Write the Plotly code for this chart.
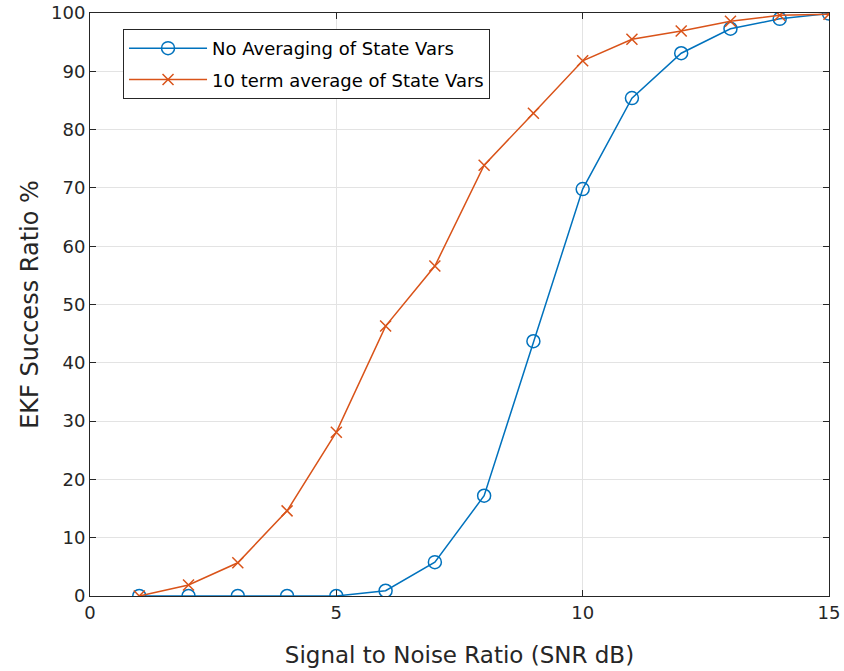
import plotly.graph_objects as go

snr_db = [1, 2, 3, 4, 5, 6, 7, 8, 9, 10, 11, 12, 13, 14, 15]
no_avg = [0, 0, 0, 0, 0, 0.9, 5.8, 17.2, 43.7, 69.8, 85.4, 93.1, 97.3, 99.0, 99.9]
avg10 = [0, 1.9, 5.7, 14.6, 28.1, 46.3, 56.6, 73.9, 82.8, 91.8, 95.5, 96.9, 98.6, 99.6, 99.8]

blue = "#0072BD"
orange = "#D95319"
font_family = "DejaVu Sans, Liberation Sans, Arial, sans-serif"
text_color = "#262626"

fig = go.Figure()
fig.add_trace(go.Scatter(
    x=snr_db, y=no_avg, mode="lines+markers", name="No Averaging of State Vars",
    legendgroup="a",
    line=dict(color=blue, width=1.5),
    marker=dict(symbol="circle-open", size=13, color=blue, line=dict(width=1.5)),
))
fig.add_trace(go.Scatter(
    x=snr_db, y=avg10, mode="lines+markers", name="10 term average of State Vars",
    legendgroup="b",
    line=dict(color=orange, width=1.5),
    marker=dict(symbol="x-thin-open", size=11, color=orange, line=dict(width=1.5, color=orange)),
))

axis_common = dict(
    showline=True, linecolor=text_color, linewidth=1, mirror="ticks",
    ticks="inside", ticklen=6, tickcolor=text_color,
    showgrid=True, gridcolor="#e3e3e3", gridwidth=1,
    zeroline=False, automargin=False,
    tickfont=dict(family=font_family, size=18, color=text_color),
)

fig.update_layout(
    width=844, height=671,
    margin=dict(l=90, r=15, t=13, b=75),
    paper_bgcolor="white", plot_bgcolor="white",
    font=dict(family=font_family, color=text_color),
    xaxis=dict(range=[0, 15], tickvals=[0, 5, 10, 15],
               title=dict(text="Signal to Noise Ratio (SNR dB)", font=dict(size=23, color=text_color), standoff=25),
               **axis_common),
    yaxis=dict(range=[0, 100], tickvals=list(range(0, 101, 10)),
               title=dict(text="EKF Success Ratio %", font=dict(size=24, color=text_color), standoff=5),
               **axis_common),
    legend=dict(x=0.0447, y=0.9726, xanchor="left", yanchor="top",
                bgcolor="white", bordercolor=text_color, borderwidth=1,
                font=dict(family=font_family, size=18, color="#000000"),
                itemwidth=78, tracegroupgap=5),
    showlegend=True,
)

fig.write_html("out.html")
